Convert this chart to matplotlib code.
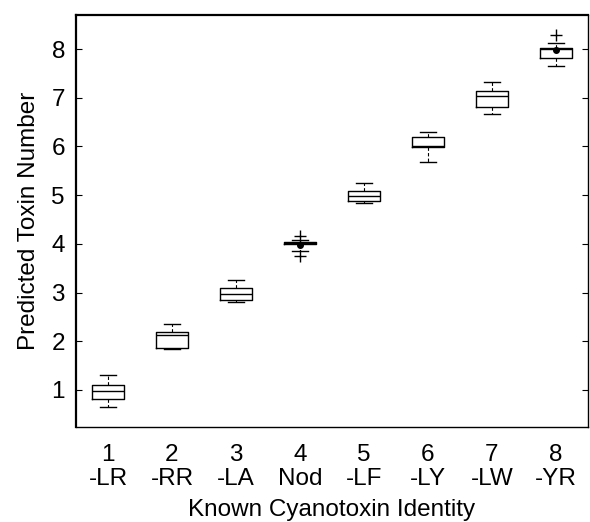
import matplotlib
matplotlib.use("Agg")
import matplotlib.pyplot as plt

# ---------- data ----------
positions = [1, 2, 3, 4, 5, 6, 7, 8]
tick_labels = ["1\n-LR", "2\n-RR", "3\n-LA", "4\nNod", "5\n-LF", "6\n-LY", "7\n-LW", "8\n-YR"]
whislo = [0.65, 1.84, 2.81, 3.85, 4.83, 5.69, 6.67, 7.66]
q1     = [0.81, 1.86, 2.84, 4.00, 4.88, 5.98, 6.82, 7.82]
med    = [0.97, 2.12, 2.97, 4.02, 4.99, 6.02, 7.04, 8.00]
q3     = [1.10, 2.20, 3.09, 4.03, 5.09, 6.19, 7.13, 8.03]
whishi = [1.31, 2.36, 3.25, 4.09, 5.26, 6.30, 7.33, 8.12]
fliers = [[], [], [], [4.17, 3.75], [], [], [], [8.29]]
# filled dots seen on boxes 4 and 8
dot_x = [4, 8]
dot_y = [3.98, 7.99]

plt.rcParams["font.family"] = ["Liberation Sans", "DejaVu Sans"]
plt.rcParams["font.size"] = 17.5

fig = plt.figure(figsize=(5.9, 5.22), dpi=100)
ax = fig.add_axes([76/590, 95/522, 512/590, 412/522])

stats = []
for i in range(len(positions)):
    stats.append(dict(med=med[i], q1=q1[i], q3=q3[i], whislo=whislo[i],
                      whishi=whishi[i], fliers=fliers[i]))

ax.bxp(stats, positions=positions, widths=0.5, capwidths=0.25,
       showfliers=True,
       boxprops=dict(color="black", lw=1.0),
       medianprops=dict(color="black", lw=1.0),
       whiskerprops=dict(color="black", lw=0.8, ls=(0, (3, 2))),
       capprops=dict(color="black", lw=1.0),
       flierprops=dict(marker="+", markeredgecolor="black", markersize=9, mew=1.0))
ax.plot(dot_x, dot_y, "o", color="black", ms=4)

ax.set_xlim(0.5, 8.5)
ax.set_ylim(0.24, 8.70)
ax.set_yticks(range(1, 9))
ax.set_xticks(positions)
ax.set_xticklabels(tick_labels, linespacing=1.15)
ax.tick_params(axis="y", direction="in", length=4, right=True, pad=8)
ax.tick_params(axis="x", length=0, pad=12)
for s in ax.spines.values():
    s.set_linewidth(1.0)
ax.spines["top"].set_linewidth(1.6)
ax.spines["left"].set_linewidth(1.6)

ax.set_xlabel("Known Cyanotoxin Identity", labelpad=6)
ax.set_ylabel("Predicted Toxin Number", labelpad=8)

fig.savefig("out.png", dpi=100)
